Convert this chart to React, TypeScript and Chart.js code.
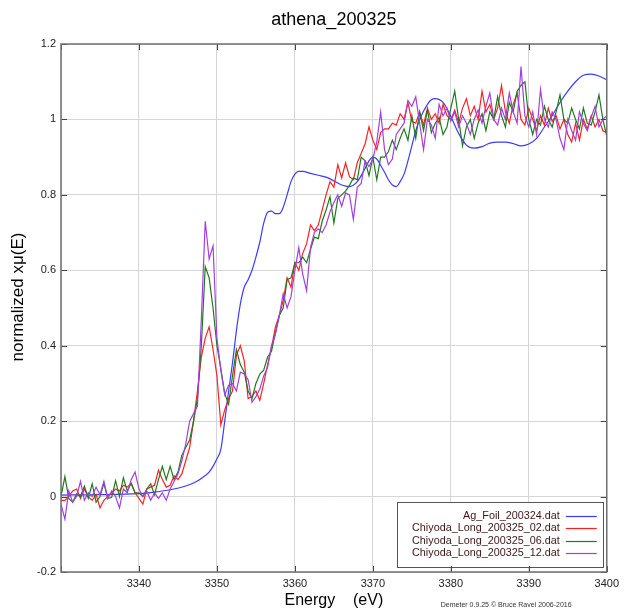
import React, { useEffect, useRef } from 'react';
import { Chart, registerables } from 'chart.js';

Chart.register(...registerables);

const CHART_TITLE = 'athena_200325';
const X_TITLE = 'Energy    (eV)';
const Y_TITLE = 'normalized xμ(E)';
const FOOTER = 'Demeter 0.9.25 © Bruce Ravel 2006-2016';

const SERIES_LABELS = [
  'Ag_Foil_200324.dat',
  'Chiyoda_Long_200325_02.dat',
  'Chiyoda_Long_200325_06.dat',
  'Chiyoda_Long_200325_12.dat',
];
const SERIES_COLORS = ['#3b3bff', '#ff2020', '#1f7a1f', '#a33fe0'];

const X_MIN = 3330;
const X_MAX = 3400;
const X_STEP = 10;
const Y_MIN = -0.2;
const Y_MAX = 1.2;
const Y_STEP = 0.2;

// Ag foil reference (smooth)
const foilEnergy = [
  3330, 3335, 3340, 3342, 3344, 3346, 3347, 3348, 3349, 3349.5,
  3350, 3350.5, 3351, 3351.5, 3352, 3352.5, 3353, 3353.5, 3354, 3354.5,
  3355, 3355.5, 3356, 3356.5, 3357, 3357.5, 3358, 3358.5, 3359, 3359.5,
  3360, 3360.5, 3361, 3362, 3363, 3364, 3365, 3366, 3367, 3368,
  3369, 3369.5, 3370, 3370.5, 3371, 3371.5, 3372, 3372.5, 3373, 3373.5,
  3374, 3374.5, 3375, 3375.5, 3376, 3377, 3377.5, 3378, 3379, 3380,
  3381, 3382, 3383, 3384, 3385, 3386, 3387, 3388, 3389, 3390,
  3391, 3392, 3393, 3394, 3395, 3396, 3397, 3398, 3399, 3400,
];
const foilMu = [
  0.004, 0.005, 0.008, 0.012, 0.018, 0.028, 0.036, 0.048, 0.065, 0.08,
  0.1, 0.125, 0.2, 0.28, 0.355, 0.44, 0.51, 0.555, 0.575, 0.6,
  0.635, 0.675, 0.725, 0.754, 0.757, 0.75, 0.75, 0.767, 0.8, 0.835,
  0.855, 0.862, 0.862, 0.857, 0.852, 0.847, 0.837, 0.826, 0.822, 0.835,
  0.87, 0.89, 0.9, 0.895, 0.878, 0.86, 0.84, 0.826, 0.822, 0.835,
  0.855, 0.89, 0.93, 0.97, 1.0, 1.04, 1.052, 1.055, 1.045, 1.008,
  0.963, 0.932, 0.924, 0.928, 0.937, 0.94, 0.94, 0.936, 0.93, 0.935,
  0.95, 0.98, 1.01, 1.045, 1.075, 1.1, 1.117, 1.12, 1.115, 1.105,
];

// sample measurements on a 0.5 eV grid from 3330 to 3400 eV
const sampleEnergy = Array.from({ length: 141 }, (_, i) => 3330 + i * 0.5);

const sample02 = [
  -0.01, -0.01, 0.0, 0.015, 0.02, -0.005, 0.02, 0.0, -0.01, 0.005,
  -0.03, -0.01, 0.0, 0.01, 0.02, 0.015, 0.03, 0.025, 0.035, 0.01,
  -0.005, -0.02, 0.02, 0.025, 0.03, 0.07, 0.045, 0.025, 0.03, 0.055,
  0.045, 0.06, 0.095, 0.13, 0.2, 0.28, 0.37, 0.42, 0.45, 0.39,
  0.32, 0.19, 0.23, 0.26, 0.28, 0.375, 0.4, 0.36, 0.26, 0.265,
  0.28, 0.255, 0.3, 0.35, 0.395, 0.45, 0.48, 0.52, 0.58, 0.555,
  0.62, 0.6, 0.645, 0.67, 0.72, 0.705, 0.72, 0.76, 0.8, 0.835,
  0.82, 0.88, 0.845, 0.885, 0.848, 0.84, 0.885, 0.91, 0.935, 0.98,
  0.945, 0.92, 0.965, 0.975, 0.975, 0.99, 0.985, 1.015, 1.0, 1.045,
  0.995, 0.99, 1.02, 0.985, 1.03, 1.0, 1.015, 0.99, 1.04, 1.01,
  1.0, 1.025, 0.99, 1.03, 1.055, 1.01, 1.035, 1.0, 1.075, 1.02,
  1.04, 1.0, 1.03, 1.09, 1.02, 0.99, 1.04, 1.07, 1.0, 0.985,
  1.03, 1.0, 0.97, 1.01, 0.985, 1.03, 0.995, 1.01, 0.975, 1.0,
  0.96, 0.94, 0.99, 0.945, 1.0, 0.975, 1.01, 0.98, 1.0, 0.97,
  0.965,
];

const sample06 = [
  0.0, 0.053, -0.005, -0.015, 0.007, 0.0, 0.028, -0.005, 0.034, -0.015,
  0.0, 0.035, -0.005, -0.002, 0.042, 0.0, 0.05, 0.015, 0.035, 0.01,
  0.01, 0.0, 0.02, 0.034, 0.005, 0.045, 0.08, 0.045, 0.08, 0.045,
  0.065, 0.11, 0.13, 0.15, 0.2, 0.26, 0.4, 0.61, 0.58, 0.5,
  0.4, 0.34, 0.273, 0.245, 0.32, 0.39, 0.35, 0.33, 0.28, 0.26,
  0.3, 0.325, 0.335, 0.37, 0.385, 0.435, 0.48, 0.5, 0.575, 0.58,
  0.62, 0.62, 0.635, 0.62, 0.655, 0.688, 0.684, 0.73, 0.76, 0.795,
  0.725, 0.79, 0.8, 0.81, 0.825, 0.845, 0.84, 0.9, 0.89, 0.851,
  0.9, 0.84, 0.9, 0.9, 0.915, 0.945, 0.92, 0.95, 0.975, 0.945,
  1.01, 0.95, 1.02, 0.97, 1.025, 0.965, 0.99, 1.005, 0.96, 0.98,
  1.03, 1.075, 1.0, 0.93, 0.98, 1.0, 0.95, 0.99, 1.015, 0.97,
  1.02, 1.0, 1.06, 1.01, 0.98, 1.045, 1.02, 1.075, 1.09, 1.1,
  1.0, 0.96, 1.0, 0.985, 1.035, 1.0, 0.98, 1.02, 1.065, 1.0,
  0.99, 1.03, 1.0, 0.975, 1.03, 0.99, 0.985, 1.02, 1.065, 1.0,
  0.955,
];

const sample12 = [
  -0.02, -0.06, 0.015, -0.015, 0.0, 0.04, -0.01, 0.01, 0.0, 0.025,
  0.005, 0.04, -0.005, 0.015, 0.0, -0.03, 0.02, 0.01, 0.045, 0.065,
  0.02, 0.0, 0.015, -0.01, 0.01, -0.005, 0.01, -0.01, 0.02, 0.04,
  0.06, 0.095, 0.14, 0.2, 0.22, 0.24, 0.47, 0.73, 0.63, 0.665,
  0.42, 0.335, 0.27, 0.295, 0.3, 0.28, 0.33, 0.325, 0.31, 0.25,
  0.265, 0.285, 0.32, 0.343, 0.4, 0.43, 0.48, 0.538, 0.5, 0.53,
  0.6, 0.66, 0.59, 0.546, 0.66, 0.7, 0.71, 0.7, 0.72, 0.755,
  0.78, 0.8, 0.77, 0.805, 0.8, 0.735, 0.82, 0.83, 0.89, 0.875,
  0.895, 0.94, 1.02, 0.92, 0.88, 0.895, 0.96, 0.975, 0.99, 1.05,
  1.035, 1.06, 0.99, 0.92, 1.0, 0.985, 0.95, 1.04, 1.01, 1.03,
  0.995, 1.02, 0.98, 1.01, 0.99, 0.96, 1.0, 1.025, 0.99, 1.035,
  1.07, 1.0, 0.985, 1.03, 1.0, 1.07, 1.02, 0.99, 1.14, 1.01,
  0.98, 1.02, 0.96, 1.08, 1.0, 0.98, 1.02, 1.0, 0.95, 0.92,
  1.0, 0.97, 0.945, 1.02, 0.99, 0.97, 1.005, 1.035, 0.98, 1.0,
  1.01,
];

const FONT_FAMILY = '"Liberation Sans", Arial, Helvetica, sans-serif';
const GRID_COLOR = '#d6d6d6';
const FRAME_COLOR = '#707070';
const TICK_COLOR = '#444444';
const TEXT_COLOR = '#222222';
const LEGEND_TEXT_COLOR = '#3c1616';

const toPoints = (xs: number[], ys: number[]) => xs.map((x, i) => ({ x, y: ys[i] }));

const decorations = {
  id: 'decorations',
  afterDatasetsDraw(chart: any) {
    const { ctx, chartArea: a } = chart;
    const xs = chart.scales.x;
    const ys = chart.scales.y;
    ctx.save();

    // legend box (inside the plot, bottom right)
    const boxW = 206;
    const boxH = 65;
    const boxRight = a.right - 4;
    const boxBottom = a.bottom - 5;
    const bx = boxRight - boxW;
    const by = boxBottom - boxH;
    ctx.fillStyle = '#ffffff';
    ctx.fillRect(bx, by, boxW, boxH);
    ctx.strokeStyle = '#555555';
    ctx.lineWidth = 1;
    ctx.strokeRect(Math.round(bx) + 0.5, Math.round(by) + 0.5, boxW, boxH);
    ctx.font = `10.8px ${FONT_FAMILY}`;
    ctx.textAlign = 'right';
    ctx.textBaseline = 'middle';
    chart.data.datasets.forEach((ds: any, i: number) => {
      const cy = Math.round(by + 14 + i * 12.3);
      ctx.fillStyle = LEGEND_TEXT_COLOR;
      ctx.fillText(ds.label, boxRight - 43, cy);
      ctx.strokeStyle = ds.borderColor;
      ctx.lineWidth = 1.2;
      ctx.beginPath();
      ctx.moveTo(boxRight - 37, cy + 0.5);
      ctx.lineTo(boxRight - 6, cy + 0.5);
      ctx.stroke();
    });

    // inner tick marks
    ctx.strokeStyle = TICK_COLOR;
    ctx.lineWidth = 1;
    ctx.beginPath();
    xs.ticks.forEach((t: any) => {
      const px = Math.round(xs.getPixelForValue(t.value)) + 0.5;
      ctx.moveTo(px, a.top);
      ctx.lineTo(px, a.top + 6);
      ctx.moveTo(px, a.bottom);
      ctx.lineTo(px, a.bottom - 6);
    });
    ys.ticks.forEach((t: any) => {
      const py = Math.round(ys.getPixelForValue(t.value)) + 0.5;
      ctx.moveTo(a.left, py);
      ctx.lineTo(a.left + 6, py);
      ctx.moveTo(a.right, py);
      ctx.lineTo(a.right - 6, py);
    });
    ctx.stroke();

    // frame
    ctx.strokeStyle = FRAME_COLOR;
    ctx.lineWidth = 1.5;
    ctx.strokeRect(a.left, a.top, a.right - a.left, a.bottom - a.top);
    ctx.restore();
  },
  afterDraw(chart: any) {
    const { ctx, chartArea: a } = chart;
    ctx.save();
    ctx.fillStyle = '#000000';
    ctx.font = `18px ${FONT_FAMILY}`;
    ctx.textAlign = 'center';
    ctx.textBaseline = 'middle';
    ctx.fillText(CHART_TITLE, (a.left + a.right) / 2, 20);

    // y axis title
    ctx.save();
    ctx.translate(18, (a.top + a.bottom) / 2 - 11);
    ctx.rotate(-Math.PI / 2);
    ctx.font = `17px ${FONT_FAMILY}`;
    ctx.fillText(Y_TITLE, 0, 0);
    ctx.restore();

    ctx.fillStyle = '#333333';
    ctx.font = `7px ${FONT_FAMILY}`;
    ctx.textAlign = 'left';
    ctx.textBaseline = 'alphabetic';
    ctx.fillText(FOOTER, a.right - 166, chart.height - 3);
    ctx.restore();
  },
};

export default function App() {
  const canvasRef = useRef<HTMLCanvasElement | null>(null);

  useEffect(() => {
    const canvas = canvasRef.current;
    if (!canvas) return;
    Chart.defaults.font.family = FONT_FAMILY;

    const seriesData = [
      toPoints(foilEnergy, foilMu),
      toPoints(sampleEnergy, sample02),
      toPoints(sampleEnergy, sample06),
      toPoints(sampleEnergy, sample12),
    ];

    const chart = new Chart(canvas, {
      type: 'line',
      data: {
        datasets: seriesData.map((data, i) => ({
          label: SERIES_LABELS[i],
          data,
          borderColor: SERIES_COLORS[i],
          backgroundColor: SERIES_COLORS[i],
          borderWidth: 1.2,
          pointRadius: 0,
          pointHoverRadius: 0,
          fill: false,
          tension: 0,
          cubicInterpolationMode: i === 0 ? 'monotone' : 'default',
          order: 4 - i,
        })),
      },
      options: {
        animation: false,
        responsive: false,
        devicePixelRatio: 1,
        parsing: false,
        normalized: true,
        layout: { padding: { top: 44, right: 13, left: 0, bottom: 0 } },
        plugins: {
          legend: { display: false },
          tooltip: { enabled: false },
          title: { display: false },
        },
        scales: {
          x: {
            type: 'linear',
            min: X_MIN,
            max: X_MAX,
            border: { display: false },
            grid: { color: GRID_COLOR, lineWidth: 1, drawTicks: false },
            ticks: {
              stepSize: X_STEP,
              autoSkip: false,
              maxRotation: 0,
              padding: 5,
              color: TEXT_COLOR,
              font: { size: 11, family: FONT_FAMILY },
              callback: (v: any) => (Number(v) === X_MIN ? '' : String(v)),
            },
            title: {
              display: true,
              text: X_TITLE,
              color: '#000000',
              font: { size: 16, family: FONT_FAMILY },
              padding: { top: 0, bottom: 0 },
            },
            afterFit: (s: any) => {
              s.height = 38;
            },
          },
          y: {
            type: 'linear',
            min: Y_MIN,
            max: Y_MAX,
            border: { display: false },
            grid: { color: GRID_COLOR, lineWidth: 1, drawTicks: false },
            ticks: {
              stepSize: Y_STEP,
              padding: 5,
              color: TEXT_COLOR,
              font: { size: 11, family: FONT_FAMILY },
              callback: (v: any) => String(Math.round(Number(v) * 10) / 10),
            },
            title: { display: false },
            afterFit: (s: any) => {
              s.width = 61;
            },
          },
        },
      },
      plugins: [decorations],
    } as any);

    return () => chart.destroy();
  }, []);

  return (
    <div style={{ position: 'absolute', left: 0, top: 0, width: 624, height: 610, background: '#ffffff' }}>
      <canvas ref={canvasRef} width={624} height={610} style={{ display: 'block' }} />
    </div>
  );
}
